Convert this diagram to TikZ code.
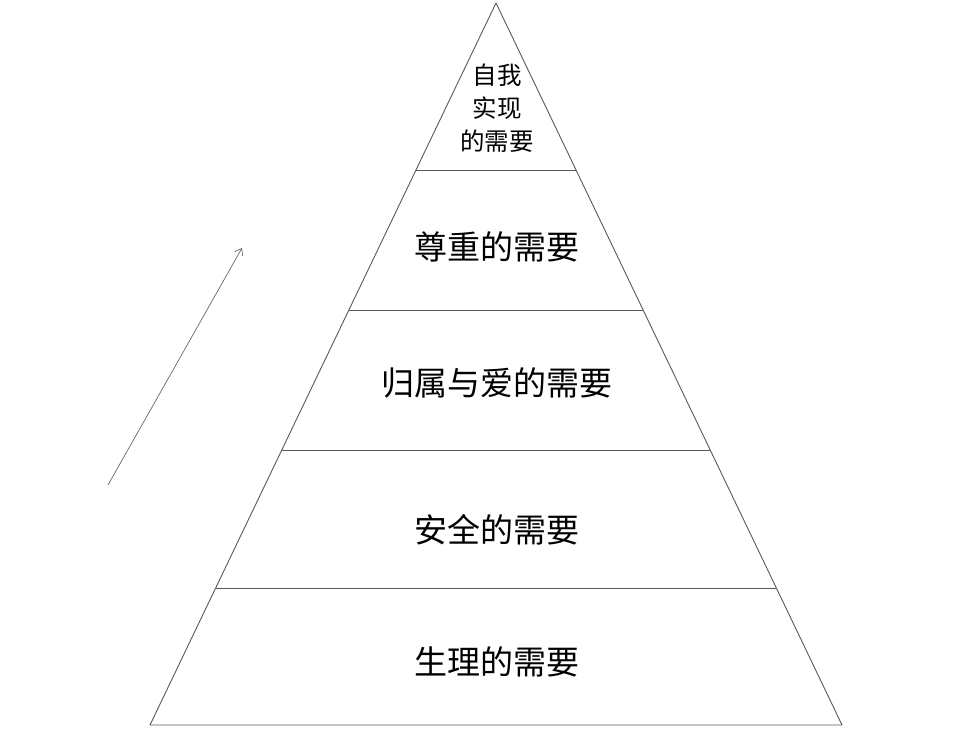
\documentclass[tikz,border=0pt]{standalone}
\usepackage{fontspec}
\newfontfamily\cjk{Noto Sans CJK SC}
\usetikzlibrary{calc,arrows.meta}
\begin{document}
\begin{tikzpicture}[x=1pt,y=-1pt,
  edge/.style={draw=black!65,line width=0.9pt},
  lbl/.style={font=\cjk\fontsize{33}{38}\selectfont,text=black,inner sep=0pt},
  toplbl/.style={font=\cjk\fontsize{24.5}{33}\selectfont,text=black,align=center,inner sep=0pt}]
\useasboundingbox (0,0) rectangle (957,736);
\coordinate (apex) at (496,3);
\coordinate (bl) at (150,725);
\coordinate (br) at (842,725);
\draw[edge,line join=round] (apex) -- (bl) -- (br) -- cycle;
\foreach \t/\n in {0.2313/a,0.4252/b,0.6191/c,0.8102/d}{
  \coordinate (l\n) at ($(apex)!\t!(bl)$);
  \coordinate (r\n) at ($(apex)!\t!(br)$);
  \draw[edge] (l\n) -- (r\n);
}
\node[toplbl] (n1) at (497,108) {自我\\实现\\的需要};
\node[lbl] (n2) at (497,247) {尊重的需要};
\node[lbl] (n3) at (497,383) {归属与爱的需要};
\node[lbl] (n4) at (497,530) {安全的需要};
\node[lbl] (n5) at (497,662) {生理的需要};
\coordinate (as) at (108,485);
\coordinate (ae) at (242,248);
\draw[draw=black!60,line width=0.7pt,-{Straight Barb[length=6pt,width=9pt]}] (as) -- (ae);
\end{tikzpicture}
\end{document}
